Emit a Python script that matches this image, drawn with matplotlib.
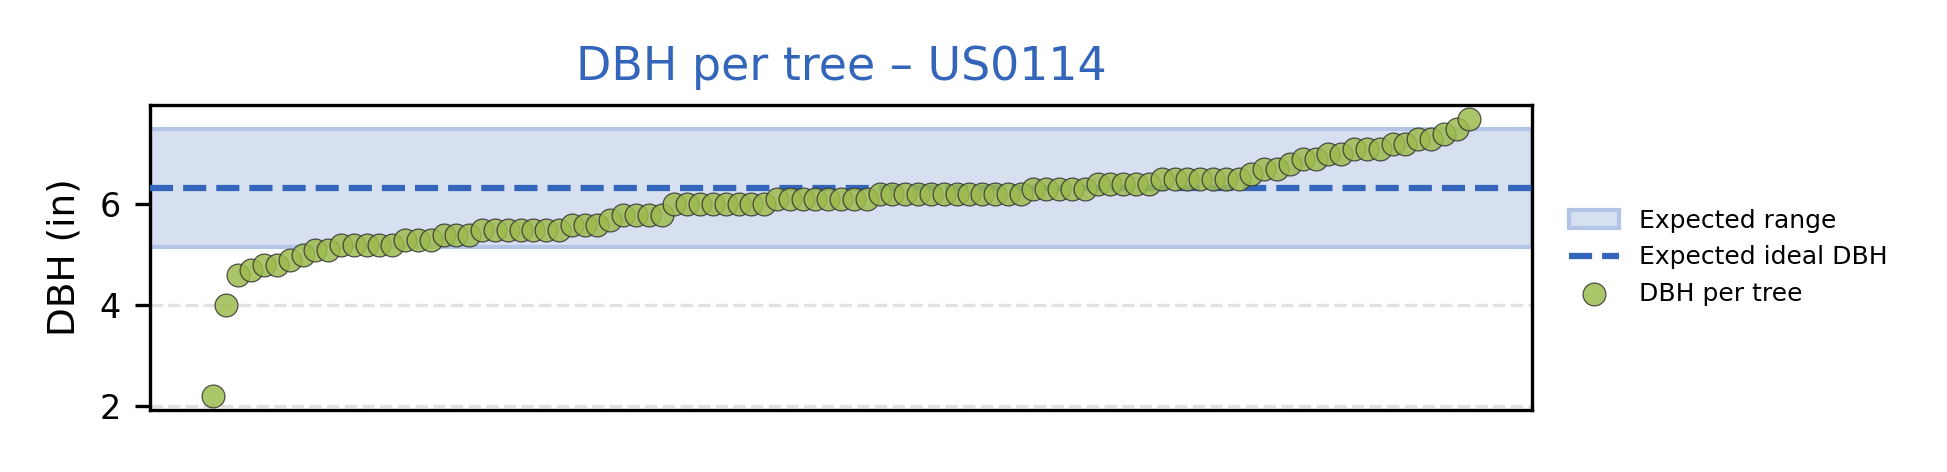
import numpy as np
import matplotlib
matplotlib.use("Agg")
import matplotlib.pyplot as plt

site = "US0114"
ideal_dbh = 6.33
range_low = 5.15
range_high = 7.5

# DBH per tree (in), sorted ascending
dbh = [2.2, 4.0, 4.6, 4.7, 4.8, 4.8, 4.9, 5.0, 5.1, 5.1,
       5.2, 5.2, 5.2, 5.2, 5.2, 5.3, 5.3, 5.3, 5.4, 5.4,
       5.4, 5.5, 5.5, 5.5, 5.5, 5.5, 5.5, 5.5, 5.6, 5.6,
       5.6, 5.7, 5.8, 5.8, 5.8, 5.8, 6.0, 6.0, 6.0, 6.0,
       6.0, 6.0, 6.0, 6.0, 6.1, 6.1, 6.1, 6.1, 6.1, 6.1,
       6.1, 6.1, 6.2, 6.2, 6.2, 6.2, 6.2, 6.2, 6.2, 6.2,
       6.2, 6.2, 6.2, 6.2, 6.3, 6.3, 6.3, 6.3, 6.3, 6.4,
       6.4, 6.4, 6.4, 6.4, 6.5, 6.5, 6.5, 6.5, 6.5, 6.5,
       6.5, 6.6, 6.7, 6.7, 6.8, 6.9, 6.9, 7.0, 7.0, 7.1,
       7.1, 7.1, 7.2, 7.2, 7.3, 7.3, 7.4, 7.5, 7.7]

x = np.arange(len(dbh))

fig = plt.figure(figsize=(1947 / 300, 472 / 300), dpi=300)
ax = fig.add_axes([0.077, 0.131, 0.71, 0.647])

ax.axhspan(range_low, range_high, facecolor="#d7e0f0", edgecolor="#b3c5e6",
           linewidth=1.0, label="Expected range", zorder=1)
ax.axhline(ideal_dbh, color="#3366bb", linestyle="--", linewidth=1.5,
           label="Expected ideal DBH", zorder=3)
ax.scatter(x, dbh, s=30, facecolor="#9dbb4f", edgecolor="#333333",
           linewidth=0.3, alpha=0.85, label="DBH per tree", zorder=4)

ax.set_xticks([])
ax.set_yticks([2, 4, 6])
ax.tick_params(axis="y", labelsize=8)
ax.grid(axis="y", linestyle="--", linewidth=0.8, color="#e2e2e2", zorder=0)
ax.set_axisbelow(True)
ax.set_ylabel("DBH (in)", fontsize=9)
ax.set_title(f"DBH per tree \u2013 {site}", fontsize=11, color="#3366bb", pad=6)

ax.legend(loc="center left", bbox_to_anchor=(1.01, 0.5), frameon=False,
          fontsize=6)

fig.savefig("out.png", dpi=300)
